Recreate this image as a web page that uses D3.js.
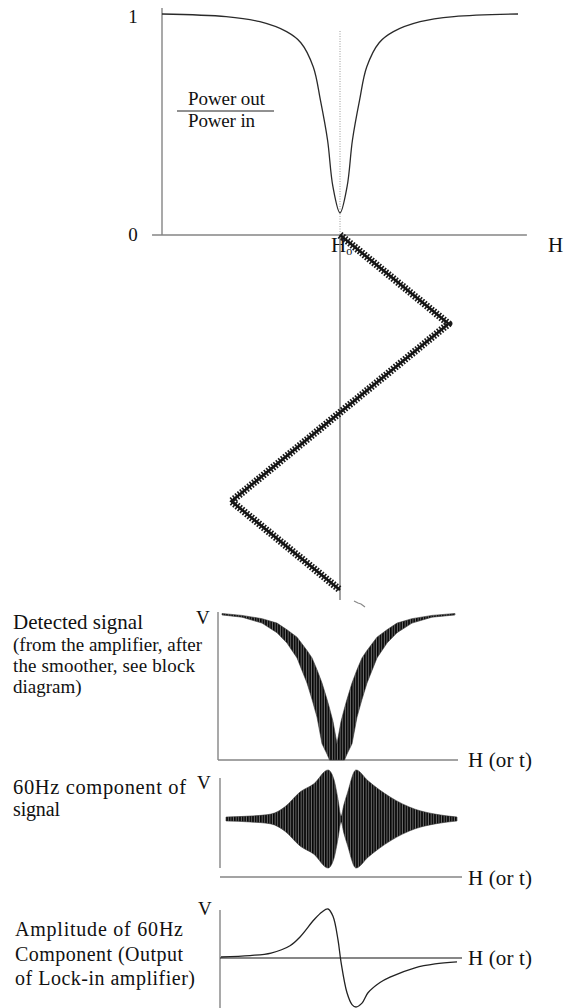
<!DOCTYPE html>
<html><head><meta charset="utf-8">
<script src="https://cdn.jsdelivr.net/npm/d3@7"></script>
<style>
html,body{margin:0;padding:0;background:#fff;}
svg{display:block;}
text{font-family:"Liberation Serif","Times New Roman",serif;fill:#111;}
</style></head><body>
<script>
// Resonance curve: transmitted power ratio vs field H (H0 at 0)
const resH     = [-100,-64,-45,-30,-22,-15,-11,-7,-4,0,4,7,11,15,22,30,45,64,100];
const resPower = [1.0,0.988,0.965,0.92,0.87,0.76,0.61,0.43,0.22,0.10,0.22,0.43,0.61,0.76,0.87,0.92,0.965,0.988,1.0];
const resTicks = [0, 1];

// Field sweep: H against time (time runs downward)
const sweepT = [0, 1, 3, 4];
const sweepH = [0, 61, -61, 0];

// Detected signal: upper / lower envelope of the modulated trace
const detH     = [-118,-98,-78,-63,-53,-43,-33,-28,-23,-18,-13,-10.5,-7,-3,1,4.5,7,12,17,22,27,37,47,57,72,92,115];
const detUpper = [0.99,0.977,0.955,0.925,0.88,0.83,0.74,0.69,0.61,0.52,0.41,0.35,0.26,0.11,0.26,0.35,0.41,0.52,0.61,0.69,0.74,0.83,0.88,0.925,0.955,0.977,0.99];
const detLower = [0.98,0.965,0.925,0.86,0.79,0.69,0.52,0.41,0.29,0.11,0.04,0.0,0.0,0.0,0.0,0.0,0.04,0.11,0.29,0.41,0.52,0.69,0.79,0.86,0.925,0.965,0.98];

// 60 Hz component: envelope amplitude
const acH   = [-114,-90,-69,-55,-40,-26,-12,-6,-2,1,4,7,16,28,50,75,95,117];
const acAmp = [0.04,0.06,0.10,0.25,0.55,0.72,1.0,0.8,0.4,0.06,0.3,0.5,1.0,0.78,0.45,0.2,0.1,0.04];

// Lock-in output (amplitude of the 60 Hz component)
const lockH = [-119,-90,-69,-50,-40,-26,-18,-12,-7,-2,1,7,12,16,22,28,40,50,75,95,117];
const lockV = [0.02,0.05,0.10,0.25,0.43,0.78,0.94,1.0,0.85,0.37,-0.08,-0.71,-0.95,-1.0,-0.92,-0.71,-0.5,-0.39,-0.20,-0.12,-0.08];

const W = 564, H = 1008;
const svg = d3.select("body").append("svg").attr("width", W).attr("height", H);

const axisGray = "#858585";

// ---------- top panel: power ratio ----------
const xTop = d3.scaleLinear().domain([-100, 100]).range([162, 518]);
const yTop = d3.scaleLinear().domain([0, 1]).range([235, 14]);

// H0 guide (dotted through the plot, solid through the sweep)
svg.append("line").attr("x1", xTop(0)).attr("x2", xTop(0)).attr("y1", 31).attr("y2", yTop(0))
  .attr("stroke", "#9a9a9a").attr("stroke-width", 1).attr("stroke-dasharray", "1,1.5");

svg.append("line").attr("x1", xTop(-100)).attr("x2", xTop(-100)).attr("y1", yTop(1) - 6).attr("y2", yTop(0))
  .attr("stroke", axisGray).attr("stroke-width", 1.4);
svg.append("line").attr("x1", xTop(-105.6)).attr("x2", xTop(105)).attr("y1", yTop(0)).attr("y2", yTop(0))
  .attr("stroke", axisGray).attr("stroke-width", 1.4);

svg.selectAll("text.tick").data(resTicks).join("text").attr("class", "tick")
  .attr("x", 133).attr("y", d => yTop(d)).attr("dy", d => d === 1 ? "0.45em" : "0.33em")
  .attr("text-anchor", "middle").attr("font-size", 19).text(d => d);

svg.append("path").datum(resH.map((h, i) => [h, resPower[i]]))
  .attr("fill", "none").attr("stroke", "#2a2a2a").attr("stroke-width", 1.3)
  .attr("d", d3.line().x(d => xTop(d[0])).y(d => yTop(d[1])).curve(d3.curveCatmullRom.alpha(0.5)));

// fraction label
svg.append("text").attr("x", 188).attr("y", 105).attr("font-size", 19).attr("textLength", 77).text("Power out");
svg.append("line").attr("x1", 177).attr("x2", 274).attr("y1", 111).attr("y2", 111).attr("stroke", "#222").attr("stroke-width", 1);
svg.append("text").attr("x", 188).attr("y", 127).attr("font-size", 19).attr("textLength", 67).text("Power in");

svg.append("text").attr("x", 548).attr("y", 252).attr("font-size", 21).text("H");
const h0 = svg.append("text").attr("x", 331).attr("y", 252).attr("font-size", 21);
h0.append("tspan").text("H");
h0.append("tspan").attr("font-size", 12).attr("dy", 3).text("o");

// ---------- field sweep ----------
const yT = d3.scaleLinear().domain([0, 4]).range([235, 590]);
svg.append("line").attr("x1", xTop(0)).attr("x2", xTop(0)).attr("y1", yTop(0)).attr("y2", 600)
  .attr("stroke", "#7a7a7a").attr("stroke-width", 1.4);

const sweepPts = sweepT.map((t, i) => [xTop(sweepH[i]), yT(t)]);
const sweepLine = d3.line();
svg.append("path").attr("d", sweepLine(sweepPts)).attr("fill", "none")
  .attr("stroke", "#111").attr("stroke-width", 2.6);
svg.append("path").attr("d", sweepLine(sweepPts)).attr("fill", "none")
  .attr("stroke", "#1a1a1a").attr("stroke-width", 7.5).attr("stroke-dasharray", "1.6,1.5")
  .attr("stroke-linejoin", "round");
svg.append("path").attr("d", "M354,601 L358,603 L361,604 L365,607").attr("fill", "none")
  .attr("stroke", "#888").attr("stroke-width", 1.2);

// ---------- hatch used for the modulated traces ----------
const defs = svg.append("defs");
const pat = defs.append("pattern").attr("id", "osc").attr("patternUnits", "userSpaceOnUse")
  .attr("width", 2.6).attr("height", 10);
pat.append("rect").attr("width", 2.6).attr("height", 10).attr("fill", "#6e6e6e");
pat.append("rect").attr("width", 1.6).attr("height", 10).attr("fill", "#050505");

// ---------- detected signal ----------
const xLow = d3.scaleLinear().domain([-122, 122]).range([218, 462]);
const yDet = d3.scaleLinear().domain([0, 1]).range([760, 612]);

svg.append("line").attr("x1", xLow(-122)).attr("x2", xLow(-122)).attr("y1", 612).attr("y2", yDet(0))
  .attr("stroke", axisGray).attr("stroke-width", 1.4);
svg.append("line").attr("x1", xLow(-122)).attr("x2", xLow(118)).attr("y1", yDet(0)).attr("y2", yDet(0))
  .attr("stroke", axisGray).attr("stroke-width", 1.4);

const detData = detH.map((h, i) => ({h, hi: detUpper[i], lo: detLower[i]}));
svg.append("path").datum(detData)
  .attr("fill", "url(#osc)").attr("stroke", "#333").attr("stroke-width", 0.6)
  .attr("d", d3.area().x(d => xLow(d.h)).y0(d => yDet(d.lo)).y1(d => yDet(d.hi)).curve(d3.curveLinear));

svg.append("text").attr("x", 196).attr("y", 624).attr("font-size", 19).text("V");
svg.append("text").attr("x", 468).attr("y", 767).attr("font-size", 21).attr("textLength", 64).text("H (or t)");

const detLabel = [
  {t: "Detected signal", y: 629, fs: 21, len: 130},
  {t: "(from the amplifier, after", y: 651, fs: 19, len: 189},
  {t: "the smoother, see block", y: 672, fs: 19, len: 182},
  {t: "diagram)", y: 693, fs: 19, len: null}
];
svg.selectAll("text.det").data(detLabel).join("text").attr("class", "det")
  .attr("x", 13).attr("y", d => d.y).attr("font-size", d => d.fs).attr("textLength", d => d.len).text(d => d.t);

// ---------- 60 Hz component ----------
const yAC = d3.scaleLinear().domain([-1, 1]).range([868, 770]);
svg.append("line").attr("x1", 220).attr("x2", 220).attr("y1", 778).attr("y2", 868)
  .attr("stroke", axisGray).attr("stroke-width", 1.4);
svg.append("line").attr("x1", 220).attr("x2", xLow(122)).attr("y1", 877).attr("y2", 877)
  .attr("stroke", axisGray).attr("stroke-width", 1.4);

const acData = acH.map((h, i) => ({h, a: acAmp[i]}));
svg.append("path").datum(acData)
  .attr("fill", "url(#osc)").attr("stroke", "#333").attr("stroke-width", 0.6)
  .attr("d", d3.area().x(d => xLow(d.h)).y0(d => yAC(-d.a)).y1(d => yAC(d.a)).curve(d3.curveMonotoneX));

svg.append("text").attr("x", 197).attr("y", 789).attr("font-size", 19).text("V");
svg.append("text").attr("x", 468).attr("y", 885).attr("font-size", 21).attr("textLength", 64).text("H (or t)");
svg.append("text").attr("x", 13).attr("y", 794).attr("font-size", 20.5).attr("textLength", 173).text("60Hz component of");
svg.append("text").attr("x", 13).attr("y", 816).attr("font-size", 20).attr("textLength", 47).text("signal");

// ---------- lock-in output ----------
const yLock = d3.scaleLinear().domain([-1, 1]).range([1007, 909]);
svg.append("line").attr("x1", 220).attr("x2", 220).attr("y1", 910).attr("y2", 1008)
  .attr("stroke", axisGray).attr("stroke-width", 1.4);
svg.append("line").attr("x1", 220).attr("x2", xLow(122)).attr("y1", yLock(0)).attr("y2", yLock(0))
  .attr("stroke", "#111").attr("stroke-width", 1.2);

svg.append("path").datum(lockH.map((h, i) => [h, lockV[i]]))
  .attr("fill", "none").attr("stroke", "#222").attr("stroke-width", 1.3)
  .attr("d", d3.line().x(d => xLow(d[0])).y(d => yLock(d[1])).curve(d3.curveCatmullRom.alpha(0.5)));

svg.append("text").attr("x", 198).attr("y", 915).attr("font-size", 19).text("V");
svg.append("text").attr("x", 468).attr("y", 965).attr("font-size", 21).attr("textLength", 64).text("H (or t)");
const lockLabel = [
  {t: "Amplitude of 60Hz", y: 936, len: 168},
  {t: "Component (Output", y: 961, len: 168},
  {t: "of Lock-in amplifier)", y: 985, len: 180}
];
svg.selectAll("text.lock").data(lockLabel).join("text").attr("class", "lock")
  .attr("x", 15).attr("y", d => d.y).attr("font-size", 20).attr("textLength", d => d.len).text(d => d.t);
</script>
</body></html>
